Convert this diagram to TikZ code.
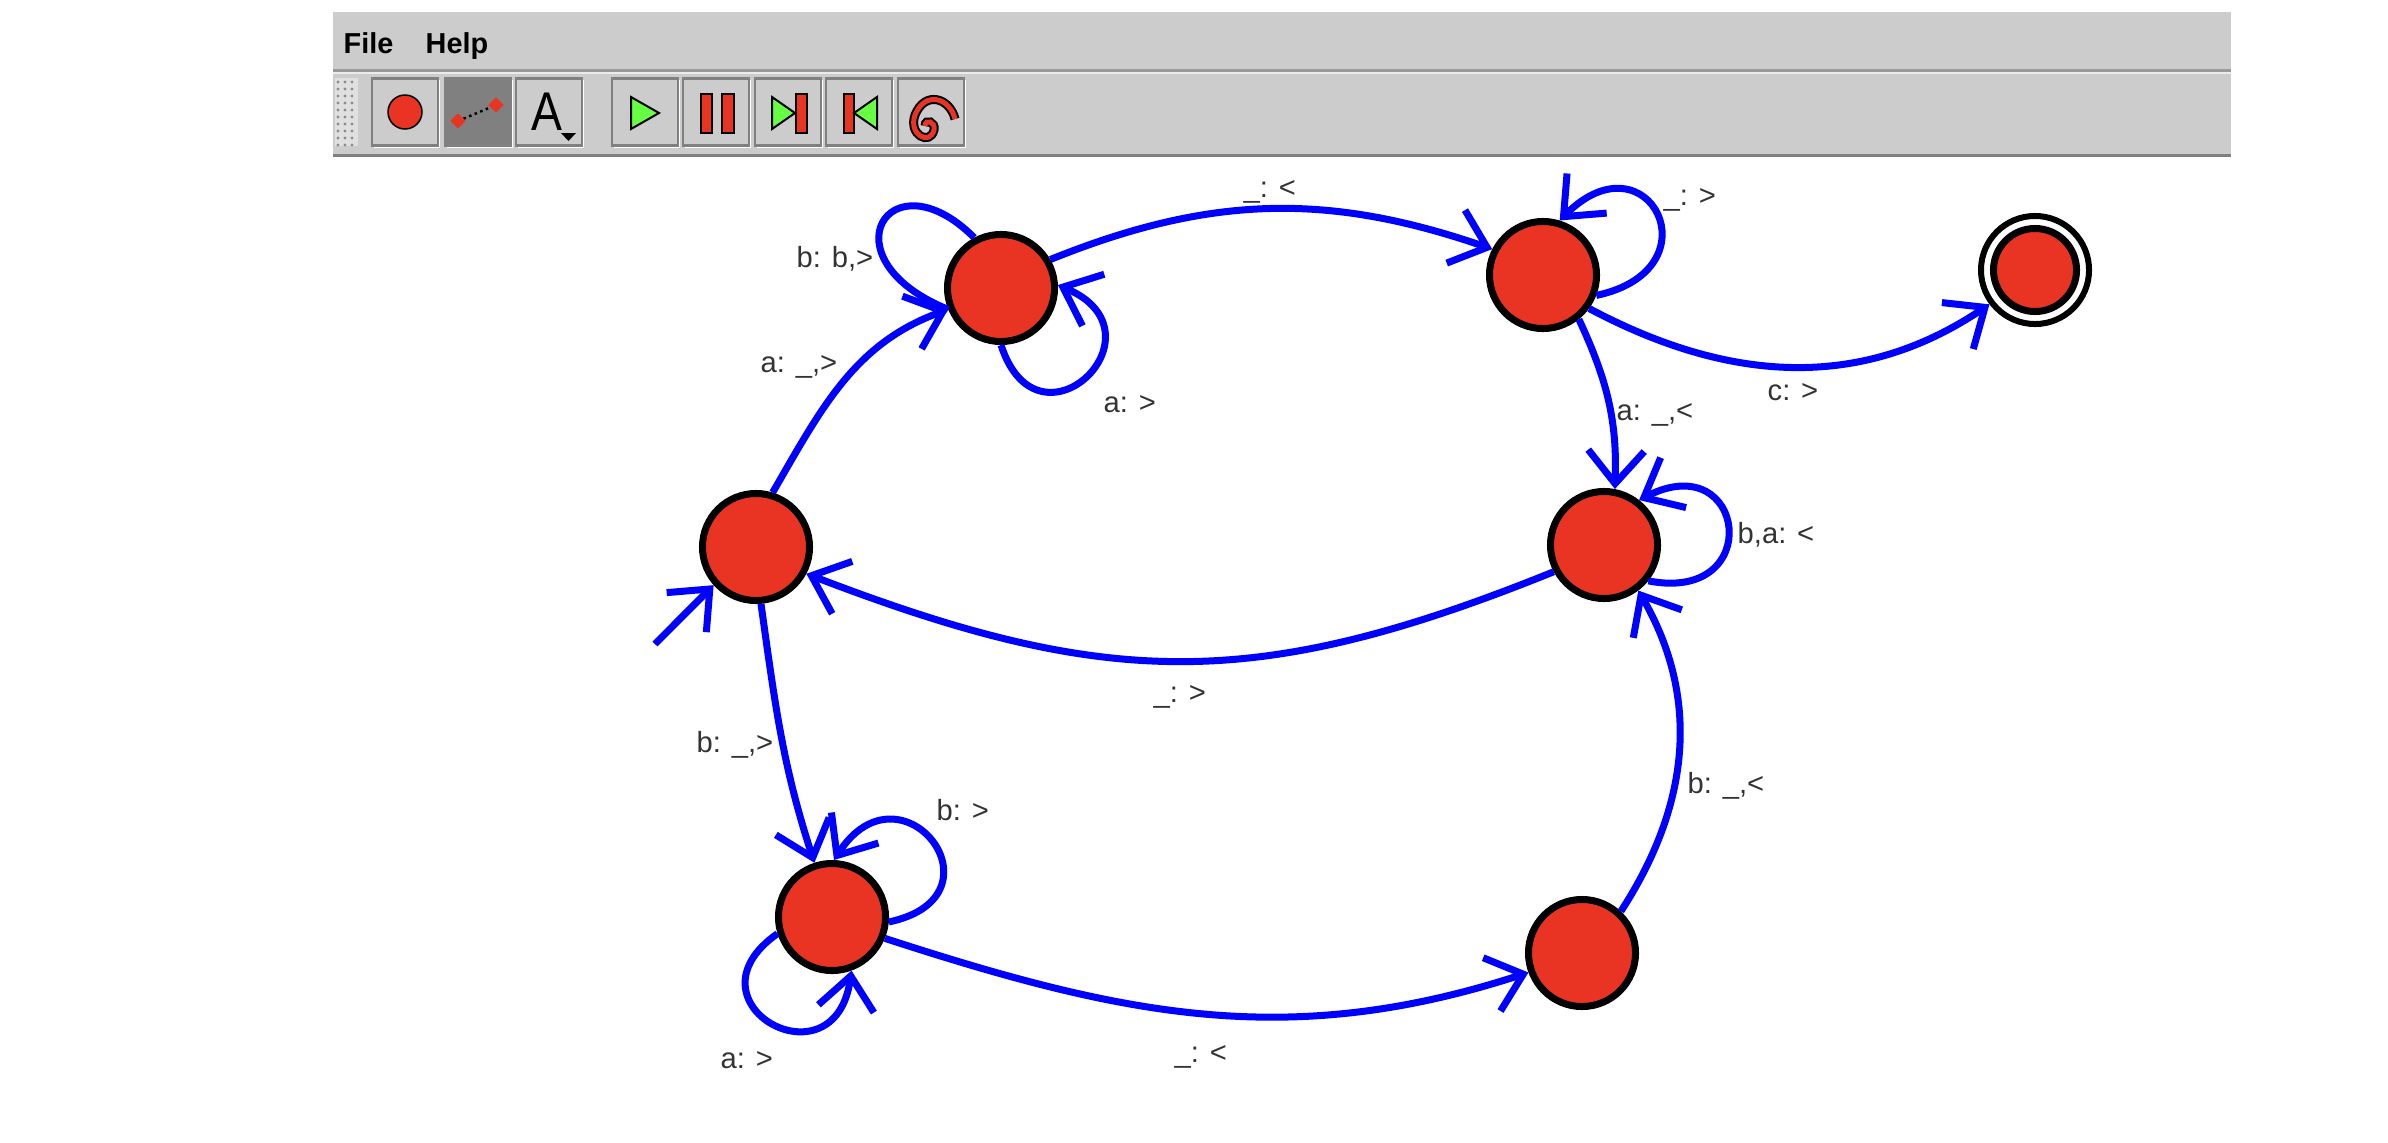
\documentclass[tikz,border=0pt]{standalone}
\usepackage{fontspec}
\setmainfont{Liberation Sans}
\usetikzlibrary{arrows.meta, shapes.geometric}
\definecolor{barfill}{HTML}{CCCCCC}
\definecolor{stfill}{HTML}{E93423}
\definecolor{tbgreen}{HTML}{66FF44}
\tikzset{
	state/.style={circle, draw=black, fill=stfill, line width=0.07cm, minimum size=1.07cm, inner sep=0},
	edge/.style={draw=blue, line width=0.07cm, -{Straight Barb[length=0.33cm,width=0.56cm]}},
	lbl/.style={anchor=base west, inner sep=0, text=black!80, font=\fontsize{8.3}{10}\selectfont},
	menu/.style={anchor=base west, inner sep=0, font=\fontsize{8.2}{10}\selectfont\bfseries},
	tbtn/.style={draw=black!50, fill=barfill, line width=0.025cm, minimum width=0.66cm, minimum height=0.67cm, inner sep=0},
	tred/.style={draw=black, fill=stfill, line width=0.025cm},
	tgreen/.style={draw=black, fill=tbgreen, line width=0.02cm}
}
\begin{document}
\begin{tikzpicture}[x=0.01cm,y=0.01cm]
	\useasboundingbox (0,0) rectangle (2388,-1142);
	% tool bar
	\fill[barfill] (333,-12) rectangle (2231,-155);
	\draw[black!40, line width=0.03cm] (333,-70) -- (2231,-70);
	\draw[black!8, line width=0.015cm] (333,-73) -- (2231,-73);
	\draw[black!50, line width=0.03cm] (333,-155) -- (2231,-155);
	\node[menu] (file) at (343,-53) {File};
	\node[menu] (help) at (425,-53) {Help};
	\fill[black!12] (335,-78) rectangle (358,-146);
	\foreach \x in {338,345,352}
		\foreach \y in {82,89,...,146}
			\fill[black!45] (\x,-\y) circle (1.6);
	\foreach \nm/\x in {bnew/405,bedge/478,btxt/549,bplay/645,bpause/716,bstep/788,bback/859,bredo/931} {
		\draw[white, line width=0.025cm] (\x-31,-147) -- (\x+34,-147) -- (\x+34,-80);
		\node[tbtn] (\nm) at (\x,-112) {};
	}
	\fill[black!50] (bedge.south west) rectangle (bedge.north east);
	\fill[stfill, draw=black, line width=0.015cm] (bnew) circle (17);
	\draw[black, line width=0.025cm, densely dotted] (458,-121) -- (496,-105);
	\node[diamond, fill=stfill, minimum size=0.16cm, inner sep=0] (dfrom) at (458,-121) {};
	\node[diamond, fill=stfill, minimum size=0.16cm, inner sep=0] (dto) at (496,-105) {};
	\node[inner sep=0, anchor=base, xscale=0.85, font=\fontsize{15.5}{18}\selectfont] (atxt) at (547,-130) {A};
	\fill (561,-133) -- (576,-133) -- (568.5,-141) -- cycle;
	\draw[tgreen] (631,-97) -- (659,-113) -- (631,-129) -- cycle;
	\draw[tred] (701,-94) rectangle (712,-133);
	\draw[tred] (722,-94) rectangle (734,-133);
	\draw[tgreen] (772,-97) -- (795,-113) -- (772,-129) -- cycle;
	\draw[tred] (796,-94) rectangle (807,-133);
	\draw[tred] (844,-94) rectangle (854,-133);
	\draw[tgreen] (877,-97) -- (854,-113) -- (877,-129) -- cycle;
	\draw[black, line width=0.09cm] (955,-119) .. controls (950,-98) and (925,-90) .. (915,-115) .. controls (908,-135) and (930,-146) .. (934,-130) .. controls (936,-122) and (925,-118) .. (925,-126);
	\draw[stfill, line width=0.05cm] (955,-119) .. controls (950,-98) and (925,-90) .. (915,-115) .. controls (908,-135) and (930,-146) .. (934,-130) .. controls (936,-122) and (925,-118) .. (925,-126);
	% states
	\node[state] (c) at (756,-547) {};
	\node[state] (a) at (1001,-288) {};
	\node[state] (b) at (1543,-275) {};
	\node[state] (d) at (1604,-545) {};
	\node[state] (g) at (832,-917) {};
	\node[state] (e) at (1582,-953) {};
	\node[circle, draw=black, line width=0.06cm, minimum size=1.08cm, inner sep=0] (fo) at (2035,-270) {};
	\node[state, minimum size=0.83cm] (f) at (2035,-270) {};
	\coordinate (start) at (655,-644);
	% edges
	\draw[edge] (start) -- (c.222);
	\draw[edge] (c.73) to[out=60,in=200] (a.202);
	\draw[edge] (a.30) to[out=22,in=161] (b.153);
	\draw[edge] (b.-36) to[out=-28,in=214] (fo.217);
	\draw[edge] (b.-51) to[out=-65,in=88] (d.79);
	\draw[edge] (d.208) to[out=202,in=-21,looseness=1.1] (c.-28);
	\draw[edge] (c.-85) to[out=-82,in=108] (g.108);
	\draw[edge] (g.-22) to[out=-18,in=198] (e.200);
	\draw[edge] (e.47) to[out=57,in=-60] (d.-53);
	% loops
	\draw[edge, -] (a.118) to[out=135,in=158,out distance=1.2cm,in distance=1.35cm] (a.202);
	\draw[edge] (a.-90) to[out=-72,in=-23,distance=1.22cm] (a.3);
	\draw[edge] (b.-21) to[out=12,in=45,distance=1.25cm] (b.73);
	\draw[edge] (d.-39) to[out=-11,in=27,distance=1.2cm] (d.52);
	\draw[edge] (g.-5) to[out=12,in=57,distance=1.24cm] (g.88);
	\draw[edge] (g.197) to[out=215,in=-98,distance=1.2cm] (g.-70);
	% labels
	\node[lbl] (l1) at (796,-267) {b: b,>};
	\node[lbl] (l2) at (760,-372) {a: \_,>};
	\node[lbl] (l3) at (1103,-412) {a: >};
	\node[lbl] (l4) at (1243,-197) {\_: <};
	\node[lbl] (l5) at (1663,-205) {\_: >};
	\node[lbl] (l6) at (1767,-400) {c: >};
	\node[lbl] (l7) at (1616,-420) {a: \_,<};
	\node[lbl] (l8) at (1737,-543) {b,a: <};
	\node[lbl] (l9) at (1153,-702) {\_: >};
	\node[lbl] (l10) at (696,-752) {b: \_,>};
	\node[lbl] (l11) at (1687,-793) {b: \_,<};
	\node[lbl] (l12) at (936,-820) {b: >};
	\node[lbl] (l13) at (720,-1068) {a: >};
	\node[lbl] (l14) at (1174,-1062) {\_: <};
\end{tikzpicture}
\end{document}
